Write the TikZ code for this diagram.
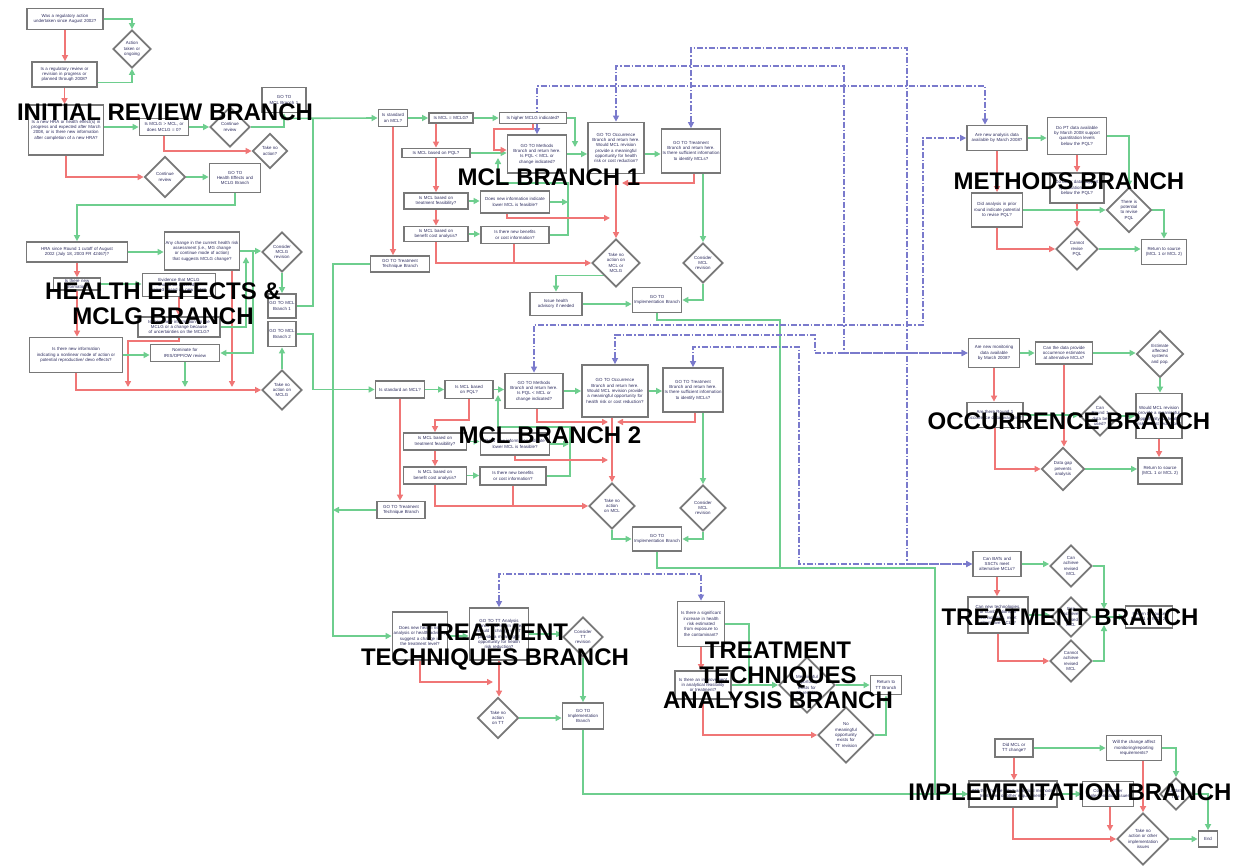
\documentclass[tikz,border=0pt]{standalone}
\usepackage{fontspec}
\setmainfont{Liberation Sans}
\usetikzlibrary{arrows.meta,shapes.geometric}
\definecolor{grn}{RGB}{110,206,142}
\definecolor{rd}{RGB}{240,118,118}
\definecolor{blu}{RGB}{122,122,204}
\definecolor{boxgray}{RGB}{120,120,120}
\definecolor{txtc}{RGB}{45,45,95}
\newcommand\tsz{\fontsize{4.4}{5.3}\selectfont\hyphenpenalty=10000\exhyphenpenalty=10000\tolerance=9999}
\newcommand\hsz{\fontsize{24}{25}\selectfont\bfseries}
\pgfdeclarelayer{bg}
\pgfsetlayers{bg,main}
\tikzset{
 bx/.style={draw=boxgray, line width=1.8pt, fill=white, inner xsep=1pt, inner ysep=1pt, align=center, text=txtc, font=\tsz},
 dm/.style={diamond, aspect=1, draw=boxgray, line width=1.8pt, fill=white, inner sep=0pt, align=center, text=txtc, font=\tsz},
 ga/.style={draw=grn, line width=1.6pt, -{Triangle[length=6pt,width=6pt]}},
 gn/.style={draw=grn, line width=1.6pt},
 ra/.style={draw=rd, line width=1.6pt, -{Triangle[length=6pt,width=6pt]}},
 rn/.style={draw=rd, line width=1.6pt},
 bab/.style={draw=blu, line width=1.4pt, dash pattern=on 6pt off 2pt on 1.5pt off 2pt, {Triangle[length=6pt,width=6pt]}-{Triangle[length=6pt,width=6pt]}},
 hd/.style={font=\hsz, align=center, inner sep=0pt, text=black}
}
\begin{document}
\begin{tikzpicture}[x=1pt,y=-1pt]
\useasboundingbox (0,0) rectangle (1244,867);
\begin{pgfonlayer}{bg}
\fill[white] (0,0) rectangle (1244,867);
\end{pgfonlayer}

% ---------- INITIAL REVIEW ----------
\node[bx, text width=74pt, minimum height=21pt] (A1) at (65,19) {Was a regulatory action undertaken since August 2002?};
\node[dm, minimum size=38pt, text width=19pt] (D1) at (132,49) {Action taken or ongoing};
\node[bx, text width=63pt, minimum height=25pt] (A2) at (64.5,74.5) {Is a regulatory review or revision in progress or planned through 2008?};
\node[bx, text width=73pt, minimum height=50pt] (A3) at (66,130) {Is a new HRA or health effect(s) in progress and expected after March 2008, or is there new information after completion of a new HRA?};
\node[bx, text width=47pt, minimum height=17pt] (A4) at (164,127) {Is MCLG > MCL, or does MCLG = 0?};
\node[dm, minimum size=40pt, text width=20pt] (D2) at (230,127) {Continue review};
\node[bx, text width=42pt, minimum height=25pt] (G1) at (284,100) {GO TO\\MCL Branch 1};
\node[dm, minimum size=35pt, text width=16pt] (D3) at (270,151) {Take no action?};
\node[dm, minimum size=41pt, text width=20pt] (D4) at (165,177) {Continue review};
\node[bx, text width=49pt, minimum height=29pt] (G2) at (235,178) {GO TO\\Health Effects and MCLG Branch};

% ---------- HEALTH EFFECTS ----------
\node[bx, text width=99pt, minimum height=20pt] (HE1) at (77,252) {HRA since Round 1 cutoff of August 2002 (July 18, 2003 FR 42467)?};
\node[bx, text width=73pt, minimum height=38pt] (HE2) at (202,251) {Any change in the current health risk assessment (i.e., MG change or continue mode of action) that suggests MCLG change?};
\node[dm, minimum size=40pt, text width=20pt] (HED1) at (282,252) {Consider MCLG revision};
\node[bx, text width=26pt, minimum height=24pt] (G3) at (282,306) {GO TO MCL Branch 1};
\node[bx, text width=26pt, minimum height=25pt] (G4) at (282,334) {GO TO MCL Branch 2};
\node[dm, minimum size=40pt, text width=20pt] (HED2) at (282,390) {Take no action on MCLG};
\node[bx, text width=45pt, minimum height=12pt] (HE3) at (77,284) {Is there new information?};
\node[bx, text width=71pt, minimum height=23pt] (HE4) at (179,285) {Evidence that MCLG should be lowered or raised based on new data?};
\node[bx, text width=80pt, minimum height=20pt] (HE5) at (179,327) {Is there new information on the MCLG or a change because of uncertainties on the MCLG?};
\node[bx, text width=91pt, minimum height=35pt] (HE6) at (76,355) {Is there new information\\ indicating a nonlinear mode of action or potential reproductive/ devo effects?};
\node[bx, text width=67pt, minimum height=17pt] (HE7) at (185,353) {Nominate for IRIS/OPP/OW review};

% ---------- MCL BRANCH 1 ----------
\node[bx, text width=27pt, minimum height=17pt] (M1a) at (393,118) {Is standard an MCL?};
\node[bx, text width=42pt, minimum height=10pt] (M1b) at (451,118) {Is MCL = MCLG?};
\node[bx, text width=65pt, minimum height=11pt] (M1c) at (533,118) {Is higher MCLG indicated?};
\node[bx, text width=57pt, minimum height=38pt] (M1d) at (537,154) {GO TO Methods Branch and return here.\\ Is PQL < MCL or change indicated?};
\node[bx, text width=54pt, minimum height=51pt] (M1e) at (616,148) {GO TO Occurrence Branch and return here.\\ Would MCL revision provide a meaningful opportunity for health risk or cost reduction?};
\node[bx, text width=57pt, minimum height=44pt] (M1f) at (691,151) {GO TO Treatment Branch and return here.\\ Is there sufficient information to identify MCLs?};
\node[bx, text width=66pt, minimum height=9pt] (M1g) at (436,153) {Is MCL based on PQL?};
\node[bx, text width=62pt, minimum height=16pt] (M1h) at (436,201) {Is MCL based on treatment feasibility?};
\node[bx, text width=67pt, minimum height=22pt] (M1i) at (515,202) {Does new information indicate lower MCL is feasible?};
\node[bx, text width=62pt, minimum height=15pt] (M1j) at (436,234) {Is MCL based on benefit cost analysis?};
\node[bx, text width=66pt, minimum height=17pt] (M1k) at (515,235) {Is there new benefits or cost information?};
\node[bx, text width=57pt, minimum height=16pt] (M1l) at (400,264) {GO TO Treatment Technique Branch};
\node[dm, minimum size=48pt, text width=24pt] (M1D1) at (616,263) {Take no action on MCL or MCLG};
\node[dm, minimum size=40pt, text width=20pt] (M1D2) at (703,263) {Consider MCL revision};
\node[bx, text width=50pt, minimum height=23pt] (M1m) at (556,304) {Issue health advisory if needed};
\node[bx, text width=47pt, minimum height=25pt] (M1n) at (657,300) {GO TO Implementation Branch};

% ---------- MCL BRANCH 2 ----------
\node[bx, text width=47pt, minimum height=17pt] (M2a) at (400,389.5) {Is standard an MCL?};
\node[bx, text width=46pt, minimum height=18pt] (M2b) at (469,389.5) {Is MCL based on PQL?};
\node[bx, text width=56pt, minimum height=35pt] (M2d) at (534,391) {GO TO Methods Branch and return here.\\ Is PQL < MCL or change indicated?};
\node[bx, text width=64pt, minimum height=52pt] (M2e) at (615,391) {GO TO Occurrence Branch and return here.\\ Would MCL revision provide a meaningful opportunity for health risk or cost reduction?};
\node[bx, text width=58pt, minimum height=44pt] (M2f) at (693,390) {GO TO Treatment Branch and return here.\\ Is there sufficient information to identify MCLs?};
\node[bx, text width=61pt, minimum height=17pt] (M2h) at (435,441.5) {Is MCL based on treatment feasibility?};
\node[bx, text width=67pt, minimum height=22pt] (M2i) at (515,444) {Does new information indicate lower MCL is feasible?};
\node[bx, text width=61pt, minimum height=17pt] (M2j) at (435,475.5) {Is MCL based on benefit cost analysis?};
\node[bx, text width=64pt, minimum height=18pt] (M2k) at (513,476) {Is there new benefits or cost information?};
\node[bx, text width=46pt, minimum height=17pt] (M2l) at (401,510) {GO TO Treatment Technique Branch};
\node[dm, minimum size=46pt, text width=22pt] (M2D1) at (612,506) {Take no action on MCL};
\node[dm, minimum size=46pt, text width=22pt] (M2D2) at (703,508) {Consider MCL revision};
\node[bx, text width=47pt, minimum height=24pt] (M2n) at (657,539) {GO TO Implementation Branch};

% ---------- TREATMENT TECHNIQUES ----------
\node[bx, text width=53pt, minimum height=48pt] (TT1) at (420,636) {Does new health risk analysis or health advisory suggest a change in the treatment level?};
\node[bx, text width=57pt, minimum height=52pt] (TT2) at (499,634) {GO TO TT Analysis Branch and return here.\\ Would a change in TT provide a meaningful opportunity for health risk reduction?};
\node[dm, minimum size=40pt, text width=18pt] (TTD1) at (583,637) {Consider TT revision};
\node[dm, minimum size=41pt, text width=20pt] (TTD2) at (498,718) {Take no action on TT};
\node[bx, text width=39pt, minimum height=26pt] (TT3) at (583,716) {GO TO Implementation Branch};

% ---------- TT ANALYSIS ----------
\node[bx, text width=45pt, minimum height=45pt] (TTA1) at (701,624) {Is there a significant increase in health risk estimated from exposure to the contaminant?};
\node[bx, text width=54pt, minimum height=28pt] (TTA2) at (703,685) {Is there an improvement in analytical feasibility or treatment?};
\node[dm, minimum size=56pt, text width=28pt] (TTAD1) at (807,685) {Meaningful opportunity exists for TT revision};
\node[bx, text width=29pt, minimum height=19pt] (TTA3) at (886,685) {Return to TT Branch};
\node[dm, minimum size=56pt, text width=28pt] (TTAD2) at (846,735) {No meaningful opportunity exists for TT revision};

% ---------- TREATMENT ----------
\node[bx, text width=46pt, minimum height=25pt] (TR1) at (997,564) {Can BATs and SSCTs meet alternative MCLs?};
\node[dm, minimum size=42pt, text width=20pt] (TRD1) at (1071,566) {Can achieve revised MCL};
\node[bx, text width=58pt, minimum height=36pt] (TR2) at (998,615) {Can new technologies, or combinations of technologies, meet alternative MCLs?};
\node[dm, minimum size=40pt, text width=20pt] (TRD2) at (1071,617) {Can achieve revised MCL};
\node[dm, minimum size=42pt, text width=20pt] (TRD3) at (1071,661) {Cannot achieve revised MCL};
\node[bx, text width=45pt, minimum height=22pt] (TR4) at (1149,617) {Return to source (MCL 1 or MCL 2)};

% ---------- OCCURRENCE ----------
\node[bx, text width=49pt, minimum height=29pt] (OC1) at (994,353) {Are new monitoring data available by March 2008?};
\node[bx, text width=55pt, minimum height=22pt] (OC2) at (1064,353) {Can the data provide occurrence estimates at alternative MCLs?};
\node[dm, minimum size=47pt, text width=22pt] (OCD1) at (1160,354) {Estimate affected systems and pop.};
\node[bx, text width=54pt, minimum height=25pt] (OC3) at (995,415) {Are there Round 1 occurrence data available?};
\node[dm, minimum size=40pt, text width=18pt] (OCD2) at (1100,416) {Can Round 1 data be used?};
\node[bx, text width=44pt, minimum height=45pt] (OC4) at (1159,416) {Would MCL revision provide a meaningful opportunity for health risk or cost reduction?};
\node[dm, minimum size=43pt, text width=20pt] (OCD3) at (1063,469) {Data gap prevents analysis};
\node[bx, text width=42pt, minimum height=26pt] (OC5) at (1160,471) {Return to source (MCL 1 or MCL 2)};

% ---------- METHODS ----------
\node[bx, text width=58pt, minimum height=25pt] (ME1) at (997,138) {Are new analysis data available by March 2008?};
\node[bx, text width=57pt, minimum height=37pt] (ME2) at (1077,136) {Do PT data available by March 2008 support quantitation levels below the PQL?};
\node[bx, text width=52pt, minimum height=30pt] (ME3) at (1077,188) {Do other data support quantitation levels below the PQL?};
\node[bx, text width=49pt, minimum height=34pt] (ME4) at (997,210) {Did analysis in prior round indicate potential to revise PQL?};
\node[dm, minimum size=45pt, text width=20pt] (MED1) at (1129,210) {There is potential to revise PQL};
\node[dm, minimum size=42pt, text width=20pt] (MED2) at (1077,249) {Cannot revise PQL};
\node[bx, text width=43pt, minimum height=25pt] (ME5) at (1164,252) {Return to source (MCL 1 or MCL 2)};

% ---------- IMPLEMENTATION ----------
\node[bx, text width=36pt, minimum height=18pt] (IM1) at (1014,748) {Did MCL or TT change?};
\node[bx, text width=53pt, minimum height=25pt] (IM3) at (1134,748) {Will the change affect monitoring/reporting requirements?};
\node[bx, text width=86pt, minimum height=26pt] (IM2) at (1013,794) {Will the change affect analytical methods, treatment, or other requirements?};
\node[bx, text width=49pt, minimum height=25pt] (IM4) at (1108,794) {Consider other implementation issues};
\node[dm, minimum size=32pt, text width=14pt] (IMD1) at (1176,794) {Update rule};
\node[dm, minimum size=52pt, text width=30pt] (IMD2) at (1143,839) {Take no action or other implementation issues};
\node[bx, text width=17pt, minimum height=16pt] (IM5) at (1208,839) {End};

% ---------- junction coordinates ----------
\coordinate (jG3) at (313,118);
\coordinate (jHE5) at (128,387);
\coordinate (jHE7) at (185,387);
\coordinate (jHE2) at (232,387);
\coordinate (jHEup) at (246,257);
\coordinate (jHEdn) at (253,252);
\coordinate (jM1c) at (575,147);
\coordinate (jM1i) at (568,202);
\coordinate (jM1k) at (498,158);
\coordinate (jM1f) at (622,183);
\coordinate (jM1i2) at (610,218);
\coordinate (jM1k2) at (514,263);
\coordinate (jM2i) at (569,444);
\coordinate (jM2k) at (498,395);
\coordinate (jM2d) at (608,422);
\coordinate (jM2f) at (617,422);
\coordinate (jM2i2) at (608,460);
\coordinate (jM2k2) at (513,506);
\coordinate (jM2l) at (333,510);
\coordinate (jM2n) at (780,568);
\coordinate (jTT3) at (935,794);
\coordinate (jTT1) at (493,682);
\coordinate (jTTA) at (749,685);
\coordinate (jTR1) at (1104,609);
\coordinate (jTR3) at (1104,625);
\coordinate (jIM4) at (1110,831);

\begin{pgfonlayer}{bg}
% initial
\draw[ga] (A1.east) -| (D1.north);
\draw[ra] (A1.south) -- (A1.south |- A2.north);
\draw[ga] ([yshift=-8pt]A2.east) -| (D1.south);
\draw[ra] (A2.south) -- (A2.south |- A3.north);
\draw[ga] (A4.west -| A3.east) -- (A4.west);
\draw[ga] (A4.east) -- (D2.west);
\draw[ga] (D2.east) -| (G1.south);
\draw[ga] ([yshift=-5pt]G1.south) -- (M1a.west);
\draw[ra] (A4.south) |- (D3.west);
\draw[ra] (A3.south) |- (D4.west);
\draw[ga] (D4.east) -- (D4.east -| G2.west);
\draw[ga] (G2.south) -- (235,205) -- (77,205) -- (HE1.north);
% health
\draw[ga] (HE1.east) -- (HE1.east -| HE2.west);
\draw[ga] (HE2.east) -- (HE2.east -| HED1.west);
\draw[ga] (HED1.south) -- (G3.north);
\draw[ga] (HED2.north) -- (G4.south);
\draw[gn] (G3.east) -| (jG3);
\draw[ga] (G4.east) -| (313,389.5) -- (M2a.west);
\draw[ra] (HE1.south) -- (HE1.south |- HE3.north);
\draw[ra] (HE3.south) -- (HE3.south |- HE6.north);
\draw[ga] (HE3.east) -- (HE3.east -| HE4.west);
\draw[ra] (HE4.south) -- (HE4.south |- HE5.north);
\draw[ra] (HE5.south) -- (179,341) -- (128,341) -- (jHE5);
\draw[ra] (HE6.south) |- (HED2.west);
\draw[ga] (HE6.east) -- (HE6.east -| HE7.west);
\draw[ga] (HE7.south) -- (jHE7);
\draw[ra] ([xshift=30pt]HE2.south) -- (jHE2);
\draw[ga] (HE5.east) -| (jHEup);
\draw[ga] (jHEdn) |- (HE7.east);
% MCL 1
\draw[ga] (M1a.east) -- (M1a.east -| M1b.west);
\draw[ga] (M1b.east) -- (M1b.east -| M1c.west);
\draw[ra] (M1a.south) -- (M1a.south |- M1l.north);
\draw[ra] ([xshift=-15pt]M1b.south) -- (M1g.north);
\draw[ra] (M1g.south) -- (M1h.north);
\draw[ra] (M1h.south) -- (M1j.north);
\draw[ga] (M1g.east) -- (M1g.east -| M1d.west);
\draw[ra] (M1c.south) -- (533,129) -- (494,129) -- (494,150) -- ([yshift=4pt]M1d.west);
\draw[ga] (M1c.east) -| (jM1c);
\draw[ga] (M1d.east) -- (M1d.east -| M1e.west);
\draw[ga] ([yshift=-6pt]M1e.east) -- ([yshift=-6pt]M1e.east -| M1f.west);
\draw[ra] (M1e.south) -- (M1e.south |- M1D1.north);
\draw[ra] ([xshift=3pt]M1f.south) |- (jM1f);
\draw[ga] ([xshift=12pt]M1f.south) -- (M1D2.north);
\draw[ga] (M1h.east) -- (M1h.east -| M1i.west);
\draw[ga] (M1j.east) -- (M1j.east -| M1k.west);
\draw[ga] (M1i.east) -- (jM1i);
\draw[ga] (M1k.east) -- (568,235) -- (568,183) -- (498,183) -- (jM1k);
\draw[ra] ([xshift=-8pt]M1i.south) |- (jM1i2);
\draw[ra] (M1j.south) |- (M1D1.west);
\draw[rn] ([xshift=-1pt]M1k.south) -- (jM1k2);
\draw[ga] (M1D1.south west) -| (M1m.north);
\draw[ga] (M1m.east) -- (M1m.east -| M1n.west);
\draw[ga] (M1D2.south) |- (M1n.east);
\draw[ga] (M1n.south) -- (657,320) -- (780,320) -- (780,568) -- (935,568) -- (935,794) -- (IM2.west);
\draw[gn] (M2n.south) -- (657,568) -- (jM2n);
\draw[gn] (TT3.south) -- (583,794) -- (jTT3);
\draw[ga] (M1l.west) -| (333,636) -- (TT1.west);
\draw[ga] (M2l.west) -- (jM2l);
% MCL 2
\draw[ga] (M2a.east) -- (M2a.east -| M2b.west);
\draw[ga] (M2b.east) -- (M2b.east -| M2d.west);
\draw[ga] (M2d.east) -- (M2d.east -| M2e.west);
\draw[ga] (M2e.east) -- (M2e.east -| M2f.west);
\draw[ra] (M2a.south) -- (M2a.south |- M2l.north);
\draw[ra] (M2b.south) -- (469,420) -- (435,420) -- (M2h.north);
\draw[ra] (M2h.south) -- (M2j.north);
\draw[ga] (M2h.east) -- (M2h.east -| M2i.west);
\draw[ga] (M2j.east) -- (M2j.east -| M2k.west);
\draw[ga] (M2i.east) -- (jM2i);
\draw[ga] (M2k.east) -- (570,476) -- (570,427) -- (498,427) -- (jM2k);
\draw[ra] ([xshift=3pt]M2d.south) -- (537,422) -- (jM2d);
\draw[ra] ([xshift=2pt]M2f.south) -- (695,422) -- (jM2f);
\draw[ra] ([xshift=-3pt]M2e.south) -- (M2D1.north);
\draw[ra] (M2i.south) |- (jM2i2);
\draw[ra] (M2j.south) |- (M2D1.west);
\draw[rn] (M2k.south) -- (jM2k2);
\draw[ga] ([xshift=10pt]M2f.south) -- (M2D2.north);
\draw[ga] (M2D1.south) |- (M2n.west);
\draw[ga] (M2D2.south) |- (M2n.east);
% TT
\draw[ga] (TT1.east) -- (TT1.east -| TT2.west);
\draw[ga] (TT2.east) -- (TT2.east -| TTD1.west);
\draw[ra] (TT1.south) |- (jTT1);
\draw[ra] (TT2.south) -- (TT2.south |- TTD2.north);
\draw[ga] (TTD1.south) -- (TTD1.south |- TT3.north);
\draw[ga] (TTD2.east) -- (TTD2.east -| TT3.west);
% TT analysis
\draw[bab] (TT2.north) -- (499,574) -- (701,574) -- (TTA1.north);
\draw[gn] (TTA1.east) -| (jTTA);
\draw[ga] (TTA2.east) -- (TTA2.east -| TTAD1.west);
\draw[ra] (TTA1.south) -- (TTA1.south |- TTA2.north);
\draw[ra] (TTA2.south) |- (TTAD2.west);
\draw[ga] (TTAD1.east) -- (TTAD1.east -| TTA3.west);
\draw[ga] (TTAD2.east) -| (TTA3.south);
% blue links
\draw[bab] (M1f.north) -- (691,48) -- (907,48) -- (907,564) -- (TR1.west);
\draw[bab] (M2f.north) -- (693,347) -- (799,347) -- (799,564) -- (TR1.west);
\draw[bab] (M1e.north) -- (616,66) -- (844,66) -- (844,353) -- (OC1.west);
\draw[bab] (M2e.north) -- (615,335) -- (815,335) -- (815,353) -- (OC1.west);
\draw[bab] (M1d.north) -- (537,86) -- (985,86) -- ([xshift=-12pt]ME1.north);
\draw[bab] (M2d.north) -- (534,325) -- (923,325) -- (923,138) -- (ME1.west);
% treatment
\draw[ga] (TR1.east) -- (TR1.east -| TRD1.west);
\draw[ra] (TR1.south) -- (TR1.south |- TR2.north);
\draw[ga] (TR2.east) -- (TR2.east -| TRD2.west);
\draw[ra] (TR2.south) |- (TRD3.west);
\draw[ga] (TRD1.east) -| (jTR1);
\draw[ga] (TRD3.east) -| (jTR3);
\draw[ga] (TRD2.east) -- (TRD2.east -| TR4.west);
% occurrence
\draw[ga] (OC1.east) -- (OC1.east -| OC2.west);
\draw[ga] (OC2.east) -- (OC2.east -| OCD1.west);
\draw[ga] (OCD1.south) -- (OCD1.south |- OC4.north);
\draw[ra] (OC4.south) -- (OC4.south |- OC5.north);
\draw[ra] (OC1.south) -- (OC1.south |- OC3.north);
\draw[ra] (OC3.south) |- (OCD3.west);
\draw[ra] (OC2.south) -- (OC2.south |- OCD3.north);
\draw[ga] (OCD3.east) -- (OCD3.east -| OC5.west);
\draw[ga] (OC3.east) -- (OC3.east -| OCD2.west);
\draw[ga] (OCD2.east) -- (OCD2.east -| OC4.west);
% methods
\draw[ga] (ME1.east) -- (ME1.east -| ME2.west);
\draw[ra] (ME1.south) -- (ME1.south |- ME4.north);
\draw[ra] (ME4.south) |- (MED2.west);
\draw[ra] (ME2.south) -- (ME2.south |- ME3.north);
\draw[ra] (ME3.south) -- (ME3.south |- MED2.north);
\draw[ga] (ME2.east) -| (MED1.north);
\draw[ga] (ME4.east) -- (ME4.east -| MED1.west);
\draw[ga] (MED1.east) -| (ME5.north);
\draw[ga] (MED2.east) -- (MED2.east -| ME5.west);
% implementation
\draw[ga] (IM1.east) -- (IM1.east -| IM3.west);
\draw[ra] (IM1.south) -- (IM1.south |- IM2.north);
\draw[ga] (IM2.east) -- (IM2.east -| IM4.west);
\draw[ra] (IM2.south) |- (IMD2.west);
\draw[ra] ([xshift=9pt]IM3.south) -- (IMD2.north);
\draw[ra] ([xshift=2pt]IM4.south) -- (jIM4);
\draw[ga] (IM3.east) -| (IMD1.north);
\draw[ga] (IMD1.east) -| (IM5.north);
\draw[ga] (IMD2.east) -- (IMD2.east -| IM5.west);
\end{pgfonlayer}

% ---------- headings ----------
\node[hd] (H1) at (165,112) {INITIAL REVIEW BRANCH};
\node[hd] (H2) at (163,304) {HEALTH EFFECTS \&\\MCLG BRANCH};
\node[hd] (H3) at (549,177) {MCL BRANCH 1};
\node[hd] (H4) at (1069,181) {METHODS BRANCH};
\node[hd] (H5) at (550,435) {MCL BRANCH 2};
\node[hd] (H6) at (1069,421) {OCCURRENCE BRANCH};
\node[hd] (H7) at (495,647) {TREATMENT\\TECHNIQUES BRANCH};
\node[hd] (H8) at (778,675) {TREATMENT\\TECHNIQUES\\ANALYSIS BRANCH};
\node[hd] (H9) at (1070,617) {TREATMENT BRANCH};
\node[hd] (H10) at (1070,792) {IMPLEMENTATION BRANCH};
\end{tikzpicture}
\end{document}
